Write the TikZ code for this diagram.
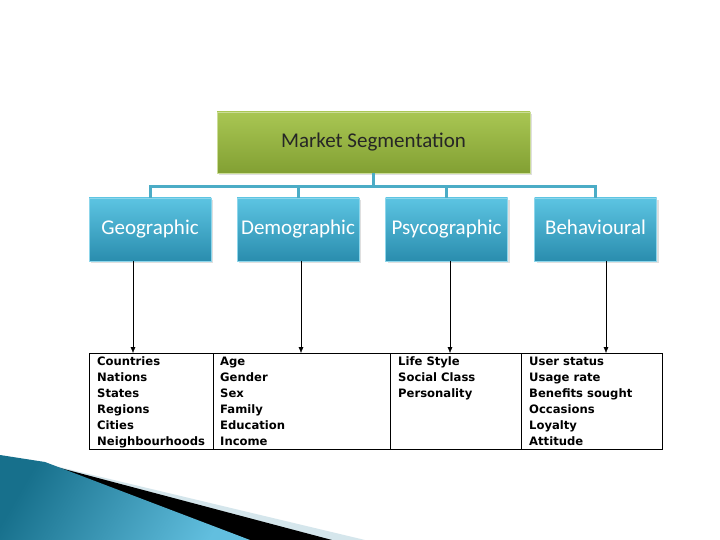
\documentclass[tikz,border=0pt]{standalone}
\usepackage{fontspec}
\newfontfamily\boxfont{Carlito}
\newfontfamily\listfont{DejaVu Sans}
\usetikzlibrary{shadows,arrows.meta}
\definecolor{linkblue}{HTML}{4BACC6}
\definecolor{boxtop}{HTML}{5CC4E2}
\definecolor{boxbot}{HTML}{2A8DAE}
\definecolor{greentop}{HTML}{A9C653}
\definecolor{greenbot}{HTML}{82A033}
\definecolor{swooshdark}{HTML}{17708C}
\definecolor{swooshlight}{HTML}{62BFDF}
\definecolor{swooshpale}{HTML}{D5E6EC}
\tikzset{
  segbox/.style={minimum width=122pt, minimum height=63pt, top color=boxtop, bottom color=boxbot,
    draw=boxtop!70!white, text=white, font=\boxfont\fontsize{21}{24}\selectfont,
    text height=14pt, text depth=4pt,
    drop shadow={opacity=0.25, shadow xshift=2pt, shadow yshift=-2pt}},
  link/.style={linkblue, line width=3pt},
  listcol/.style={anchor=north west, align=left, inner sep=0pt,
    font=\listfont\bfseries\fontsize{11.6}{16}\selectfont},
  feed/.style={-{Latex[length=6pt,width=5pt]}}
}
\begin{document}
\begin{tikzpicture}[x=1pt,y=-1pt]
\useasboundingbox (0,0) rectangle (720,540);
\fill[white] (0,0) rectangle (720,540);
\fill[swooshpale] (30,460) -- (365,540) -- (0,540) -- cycle;
\fill[black] (30,460) -- (332,540) -- (248,540) -- cycle;
\shade[left color=swooshdark, right color=swooshlight, shading angle=60]
  (0,455) -- (45,462) -- (250,540) -- (0,540) -- cycle;
\node[minimum width=313pt, minimum height=61pt, top color=greentop, bottom color=greenbot,
  draw=greentop!60!white, text=black!85, font=\boxfont\fontsize{21}{24}\selectfont,
  drop shadow={opacity=0.25, shadow xshift=2pt, shadow yshift=-2pt}]
  (ms) at (373.5,142.5) {Market Segmentation};
\node[segbox] (geo) at (150,229.5) {Geographic};
\node[segbox] (demo) at (298,229.5) {Demographic};
\node[segbox] (psy) at (446.5,229.5) {Psycographic};
\node[segbox] (beh) at (595.5,229.5) {Behavioural};
\draw[link] (ms.south) -- ++(0,13) coordinate (hub);
\draw[link] (geo.north) |- (hub) -| (beh.north);
\draw[link] (demo.north) |- (hub);
\draw[link] (psy.north) |- (hub);
\node[draw, thick, minimum width=573pt, minimum height=96pt, anchor=north west, inner sep=0pt] (tbl) at (89,353) {};
\draw[thick] (213,353) -- (213,449);
\draw[thick] (390,353) -- (390,449);
\draw[thick] (521,353) -- (521,449);
\node[listcol] (geolist) at (97,354) {\strut Countries\\Nations\\States\\Regions\\Cities\\Neighbourhoods};
\node[listcol] (demolist) at (220,354) {\strut Age\\Gender\\Sex\\Family\\Education\\Income};
\node[listcol] (psylist) at (398,354) {\strut Life Style\\Social Class\\Personality};
\node[listcol] (behlist) at (529,354) {\strut User status\\Usage rate\\Benefits sought\\Occasions\\Loyalty\\Attitude};
\coordinate (t1) at (133,353);
\coordinate (t2) at (301,353);
\coordinate (t3) at (450,353);
\coordinate (t4) at (606,353);
\draw[feed] (t1 |- geo.south) -- (t1);
\draw[feed] (t2 |- demo.south) -- (t2);
\draw[feed] (t3 |- psy.south) -- (t3);
\draw[feed] (t4 |- beh.south) -- (t4);
\end{tikzpicture}
\end{document}
